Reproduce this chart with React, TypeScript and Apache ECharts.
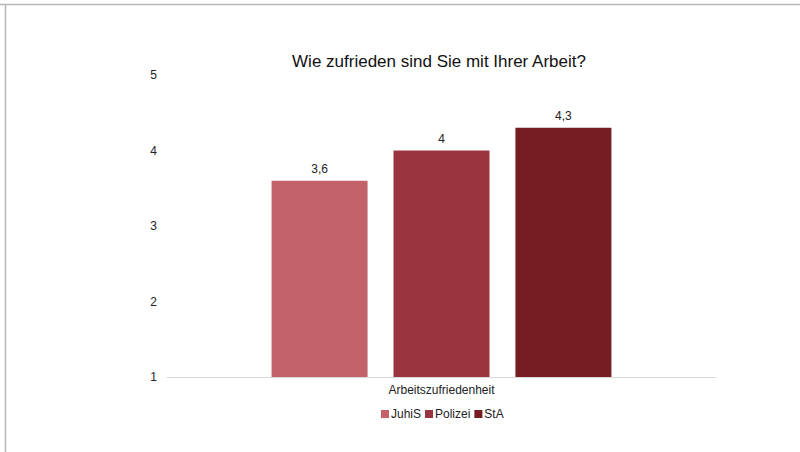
import React, { useEffect, useRef } from "react";
import * as echarts from "echarts";

const categories = ["Arbeitszufriedenheit"];
const seriesNames = ["JuhiS", "Polizei", "StA"];
const seriesValues = [[3.6], [4], [4.3]];
const seriesColors = ["#c4626b", "#9a343f", "#761c23"];
const titleText = "Wie zufrieden sind Sie mit Ihrer Arbeit?";

export default function App() {
  const ref = useRef<HTMLDivElement>(null);
  useEffect(() => {
    if (!ref.current) return;
    const chart = echarts.init(ref.current, null, { renderer: "svg" });
    const font = "Liberation Sans, Arial, Helvetica, sans-serif";
    chart.setOption({
      animation: false,
      backgroundColor: "#ffffff",
      textStyle: { fontFamily: font },
      title: {
        text: titleText,
        left: 434,
        top: 48,
        textAlign: "center",
        textStyle: { fontSize: 17, fontWeight: "normal", color: "#111111", fontFamily: font },
      },
      legend: {
        data: seriesNames,
        top: 403,
        left: 376,
        itemWidth: 8,
        itemHeight: 8,
        itemGap: 4,
        icon: "rect",
        textStyle: { fontSize: 12, color: "#222222", fontFamily: font, padding: [0, 0, 0, -3] },
      },
      grid: { left: 167, right: 84, top: 75, bottom: 75, containLabel: false },
      xAxis: {
        type: "category",
        data: categories,
        axisLine: { show: true, lineStyle: { color: "#d9d9d9", width: 1 } },
        axisTick: { show: false },
        axisLabel: { fontSize: 12, color: "#222222", margin: 7, fontFamily: font },
      },
      yAxis: {
        type: "value",
        min: 1,
        max: 5,
        interval: 1,
        splitLine: { show: false },
        axisLine: { show: false },
        axisTick: { show: false },
        axisLabel: { fontSize: 12, color: "#222222", margin: 10, fontFamily: font },
      },
      graphic: [
        { type: "line", shape: { x1: 0, y1: 4.5, x2: 800, y2: 4.5 }, style: { stroke: "#b8b8b8", lineWidth: 1.5 } },
        { type: "line", shape: { x1: 5.5, y1: 4, x2: 5.5, y2: 452 }, style: { stroke: "#b8b8b8", lineWidth: 1.5 } },
      ],
      series: seriesNames.map((name, i) => ({
        name,
        type: "bar",
        data: seriesValues[i],
        barWidth: 96,
        barGap: "27%",
        itemStyle: { color: seriesColors[i] },
        label: {
          show: true,
          position: "top",
          distance: 6,
          fontSize: 12,
          color: "#222222",
          fontFamily: font,
          formatter: (p: any) => String(p.value).replace(".", ","),
        },
      })),
    });
    return () => chart.dispose();
  }, []);
  return (
    <div
      ref={ref}
      style={{ position: "fixed", left: 0, top: 0, width: 800, height: 452 }}
    />
  );
}
